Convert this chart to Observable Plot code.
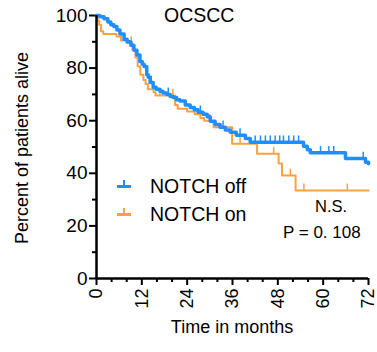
<!DOCTYPE html>
<html><head><meta charset="utf-8">
<script src="https://cdn.jsdelivr.net/npm/d3@7"></script>
<script src="https://cdn.jsdelivr.net/npm/@observablehq/plot@0.6"></script>
<style>
body{margin:0;background:#fff;}
#wrap{position:relative;width:377px;height:352px;font-family:Arial,"Liberation Sans",sans-serif;color:#000;}
#wrap svg{position:absolute;left:0;top:0;}
.ov{position:absolute;white-space:nowrap;line-height:1;}
</style></head>
<body><div id="wrap"></div>
<script>
const title = "OCSCC";
const xLabel = "Time in months";
const yLabel = "Percent of patients alive";
const seriesNames = ["NOTCH off", "NOTCH on"];
const colors = ["#1f8fff", "#ffa040"];
const nsText = "N.S.";
const pText = "P = 0. 108";
const xMajor = [0, 12, 24, 36, 48, 60, 72];
const xMinor = [4, 8, 16, 20, 28, 32, 40, 44, 52, 56, 64, 68];
const yMajor = [0, 20, 40, 60, 80, 100];
const yMinor = [10, 30, 50, 70, 90];

// NOTCH off: step times (months) and survival (%) after each step
const offT = [0, 0.9, 2.0, 3.0, 3.8, 4.6, 5.4, 6.2, 7.3, 8.1, 9.1, 9.9, 10.7, 11.5, 12.1, 12.6, 13.3, 13.7, 14.2, 15.0, 15.8, 16.8, 17.6, 18.6, 19.5, 20.3, 21.2, 22.1, 23.5, 24.8, 25.9, 26.9, 28.2, 29.3, 30.1, 31.4, 32.7, 34.1, 35.4, 37.0, 39.4, 40.7, 54.8, 55.8, 56.6, 65.9, 71.2, 72];
const offS = [100, 99.5, 98.8, 97.5, 96.5, 95.8, 94.5, 93, 91, 90, 88.7, 86.8, 85, 82.5, 81.5, 80.6, 77.5, 76.5, 74.5, 72.7, 72, 71.2, 70.5, 70, 69.2, 68.8, 68, 67.5, 66, 65, 64.2, 63.2, 62.5, 61.5, 59.8, 58.6, 57.5, 56.5, 55.6, 54.5, 53.2, 51.8, 50.3, 49, 47.8, 45.6, 44.2, 43.6];
const offCensor = [14.5, 19, 27.5, 33.5, 38, 42.0, 43.4, 44.7, 46.0, 47.3, 48.5, 49.5, 50.9, 52.2, 53.5, 59.3, 61.5, 62.8, 70.6];

// NOTCH on
const onT = [0, 0.3, 0.7, 1.2, 1.8, 5.3, 6.5, 8.0, 9.5, 10.3, 10.9, 11.6, 12.4, 13.0, 13.6, 15.1, 15.6, 20.8, 21.5, 24.0, 26.0, 27.5, 28.5, 31.0, 35.9, 42.5, 48.2, 49.1, 52.7, 72];
const onS = [100, 98, 96.5, 94, 93, 92, 90.5, 89.5, 87, 84, 80.6, 77.5, 75.5, 74, 72, 70.8, 69.6, 66, 64.5, 63.5, 62.5, 61, 60, 57.5, 51.2, 47.4, 43.7, 39.2, 33.5, 33.5];
const onCensor = [9.2, 16.8, 20.2, 30, 38, 46.9, 51.3, 54.9, 66.4];

function rows(T, S, name) { return T.map((t, i) => ({t, s: S[i], g: name})); }
function lookup(T, S, t) { let v = S[0]; for (let i = 0; i < T.length; i++) if (T[i] <= t) v = S[i]; return v; }
function cens(T, S, C, name) { return C.map(t => { const s = lookup(T, S, t); return {t, s, s2: s + 2.4, g: name}; }); }

const offRows = rows(offT, offS, seriesNames[0]);
const onRows = rows(onT, onS, seriesNames[1]);
const offC = cens(offT, offS, offCensor, seriesNames[0]);
const onC = cens(onT, onS, onCensor, seriesNames[1]);

const chart = Plot.plot({
  width: 377, height: 352,
  marginLeft: 96, marginRight: 9, marginTop: 15, marginBottom: 74,
  x: {domain: [0, 72]},
  y: {domain: [0, 100]},
  style: {fontFamily: 'Arial, "Liberation Sans", sans-serif', fontSize: "18px", color: "#000", background: "transparent", overflow: "visible"},
  marks: [
    Plot.axisY({ticks: yMajor, tickSize: 7, tickPadding: 2, label: null, fontSize: 19, strokeWidth: 2, tickFormat: d => String(d)}),
    Plot.axisY({ticks: yMinor, tickSize: 4, text: null, label: null, strokeWidth: 2}),
    Plot.axisX({ticks: xMajor, tickSize: 7, tickPadding: 3, tickRotate: -90, label: null, fontSize: 18, strokeWidth: 2, tickFormat: d => String(d)}),
    Plot.axisX({ticks: xMinor, tickSize: 4, text: null, label: null, strokeWidth: 2}),
    Plot.line(onRows, {x: "t", y: "s", curve: "step-after", stroke: colors[1], strokeWidth: 2}),
    Plot.ruleX(onC, {x: "t", y1: "s", y2: "s2", stroke: colors[1], strokeWidth: 1.5}),
    Plot.line(offRows, {x: "t", y: "s", curve: "step-after", stroke: colors[0], strokeWidth: 3.5}),
    Plot.ruleX(offC, {x: "t", y1: "s", y2: "s2", stroke: colors[0], strokeWidth: 1.5}),
    Plot.ruleX([0], {stroke: "#000", strokeWidth: 2.5}),
    Plot.ruleY([0], {stroke: "#000", strokeWidth: 2.5})
  ]
});
const wrap = document.getElementById("wrap");
wrap.appendChild(chart);

function ov(text, css) { const d = document.createElement("div"); d.className = "ov"; d.textContent = text; Object.assign(d.style, css); wrap.appendChild(d); return d; }
ov(title, {left: "164px", top: "6px", fontSize: "19.5px"});
ov(yLabel, {left: "22px", top: "148px", fontSize: "18px", transform: "translate(-50%,-50%) rotate(-90deg)"});
ov(xLabel, {left: "232px", top: "318px", fontSize: "18px", transform: "translateX(-50%)"});
ov(nsText, {left: "315px", top: "198px", fontSize: "16.5px"});
ov(pText, {left: "283px", top: "224px", fontSize: "17px"});
// legend
[0, 1].forEach(i => {
  const y = 186 + i * 28;
  const sym = document.createElement("div");
  sym.className = "ov";
  Object.assign(sym.style, {left: "117px", top: (y - 1) + "px", width: "14px", height: "2.5px", background: colors[i]});
  wrap.appendChild(sym);
  const tk = document.createElement("div");
  tk.className = "ov";
  Object.assign(tk.style, {left: "123px", top: (y - 6) + "px", width: "2px", height: "6px", background: colors[i]});
  wrap.appendChild(tk);
  ov(seriesNames[i], {left: "150px", top: (y - 9) + "px", fontSize: "19.5px"});
});
</script></body></html>
